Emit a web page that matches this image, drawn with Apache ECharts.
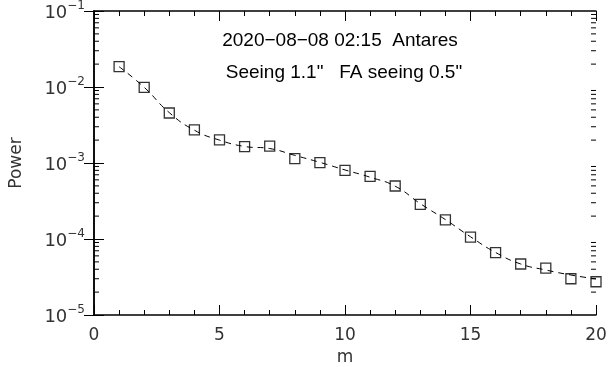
<!DOCTYPE html>
<html>
<head>
<meta charset="utf-8">
<script src="https://cdn.jsdelivr.net/npm/echarts@6/dist/echarts.min.js"></script>
<style>
  html, body { margin: 0; padding: 0; background: #fff; }
  #chart { width: 608px; height: 367px; }
</style>
</head>
<body>
<div id="chart"></div>
<script>
// measured power per mode m (squares)
const modes = [1, 2, 3, 4, 5, 6, 7, 8, 9, 10, 11, 12, 13, 14, 15, 16, 17, 18, 19, 20];
const power = [
  0.0185, 0.0099, 0.00455, 0.00272, 0.00201, 0.00164, 0.00167, 0.00114, 0.00101, 0.00080,
  0.000668, 0.000498, 0.000286, 0.000179, 0.000106, 0.000066, 0.0000469, 0.0000415, 0.0000300, 0.0000274
];
// smooth fit (dashed line)
const fitPower = [
  0.0185, 0.0099, 0.0046, 0.0027, 0.0020, 0.00165, 0.00155, 0.00126, 0.00102, 0.00081,
  0.00065, 0.000495, 0.000292, 0.000180, 0.000107, 0.0000665, 0.0000469, 0.0000391, 0.0000336, 0.0000298
];
// minor log ticks 2..9 in each decade
const yMinorTicks = [];
for (let d = -5; d < -1; d++) {
  for (let k = 2; k <= 9; k++) yMinorTicks.push(k * Math.pow(10, d));
}
const titleLine1 = "2020\u221208\u221208 02:15  Antares";
const titleLine2 = "Seeing 1.1\"   FA seeing 0.5\"";

const tickFont = "DejaVu Sans";
const axisColor = "#000";
const xMin = 0, xMax = 20;

const chart = echarts.init(document.getElementById("chart"), null, { renderer: "canvas" });

const expLabel = (v) => {
  const e = Math.round(Math.log10(v));
  return "{b|10}{e|" + (e < 0 ? "\u2212" + (-e) : e) + "}";
};

const yBase = {
  type: "log",
  logBase: 10,
  min: 1e-5,
  max: 1e-1,
  splitLine: { show: false },
  axisLine: { show: true, lineStyle: { color: axisColor, width: 1.5 } },
};

const option = {
  backgroundColor: "#fff",
  animation: false,
  grid: { left: 94, right: 12, top: 11, bottom: 52, outerBoundsMode: "none", containLabel: false },
  graphic: [
    {
      type: "text", x: 340, y: 31,
      style: { text: titleLine1, font: "19px 'Liberation Sans', Arial, sans-serif", fill: "#000", align: "center", textAlign: "center" }
    },
    {
      type: "text", x: 344, y: 63,
      style: { text: titleLine2, font: "19px 'Liberation Sans', Arial, sans-serif", fill: "#000", align: "center", textAlign: "center" }
    }
  ],
  xAxis: [
    {
      type: "value", position: "bottom", min: xMin, max: xMax, interval: 5,
      name: "m", nameLocation: "middle", nameGap: 34,
      nameTextStyle: { fontFamily: tickFont, fontSize: 17, color: "#333" },
      axisLine: { show: true, lineStyle: { color: axisColor, width: 1.5 } },
      axisTick: { show: true, inside: true, length: 10, lineStyle: { color: axisColor } },
      minorTick: { show: true, splitNumber: 5, length: 5, lineStyle: { color: axisColor } },
      axisLabel: { fontFamily: tickFont, fontSize: 17, color: "#333", margin: 12 },
      splitLine: { show: false }
    },
    {
      type: "value", position: "top", min: xMin, max: xMax, interval: 5,
      axisLine: { show: true, lineStyle: { color: axisColor, width: 1.5 } },
      axisTick: { show: true, inside: true, length: 10, lineStyle: { color: axisColor } },
      minorTick: { show: true, splitNumber: 5, length: 5, lineStyle: { color: axisColor } },
      axisLabel: { show: false },
      splitLine: { show: false }
    }
  ],
  yAxis: [
    Object.assign({}, yBase, {
      position: "left",
      name: "Power", nameLocation: "middle", nameGap: 69, nameRotate: 90,
      nameTextStyle: { fontFamily: tickFont, fontSize: 17, color: "#333" },
      axisTick: { show: true, inside: true, length: 10, lineStyle: { color: axisColor } },
      axisLabel: {
        margin: 9, formatter: expLabel,
        rich: {
          b: { fontFamily: tickFont, fontSize: 18, color: "#333", lineHeight: 22, verticalAlign: "bottom" },
          e: { fontFamily: tickFont, fontSize: 12, color: "#333", lineHeight: 12, verticalAlign: "top" }
        }
      }
    }),
    Object.assign({}, yBase, {
      position: "right",
      axisTick: { show: true, inside: true, length: 10, lineStyle: { color: axisColor } },
      axisLabel: { show: false }
    })
  ],
  series: [
    {
      // minor log ticks on both vertical axes
      name: "minorTicks",
      type: "custom",
      xAxisIndex: 0, yAxisIndex: 0,
      silent: true,
      clip: false,
      data: yMinorTicks.map((v) => [xMin, v]),
      renderItem: (params, api) => {
        const v = api.value(1);
        const l = api.coord([xMin, v]);
        const r = api.coord([xMax, v]);
        const style = { stroke: axisColor, lineWidth: 1 };
        return {
          type: "group",
          children: [
            { type: "line", shape: { x1: l[0], y1: l[1], x2: l[0] + 5, y2: l[1] }, style },
            { type: "line", shape: { x1: r[0], y1: r[1], x2: r[0] - 5, y2: r[1] }, style }
          ]
        };
      },
      z: 1
    },
    {
      name: "fit",
      type: "line",
      xAxisIndex: 0, yAxisIndex: 0,
      smooth: true,
      showSymbol: false,
      lineStyle: { color: "#000", width: 1, type: [6, 5] },
      data: modes.map((m, i) => [m, fitPower[i]]),
      z: 2
    },
    {
      name: "power",
      type: "scatter",
      xAxisIndex: 0, yAxisIndex: 0,
      symbol: "rect",
      symbolSize: 10,
      itemStyle: { color: "rgba(0,0,0,0)", borderColor: "#000", borderWidth: 1.3 },
      data: modes.map((m, i) => [m, power[i]]),
      z: 3
    }
  ]
};

chart.setOption(option);
</script>
</body>
</html>
